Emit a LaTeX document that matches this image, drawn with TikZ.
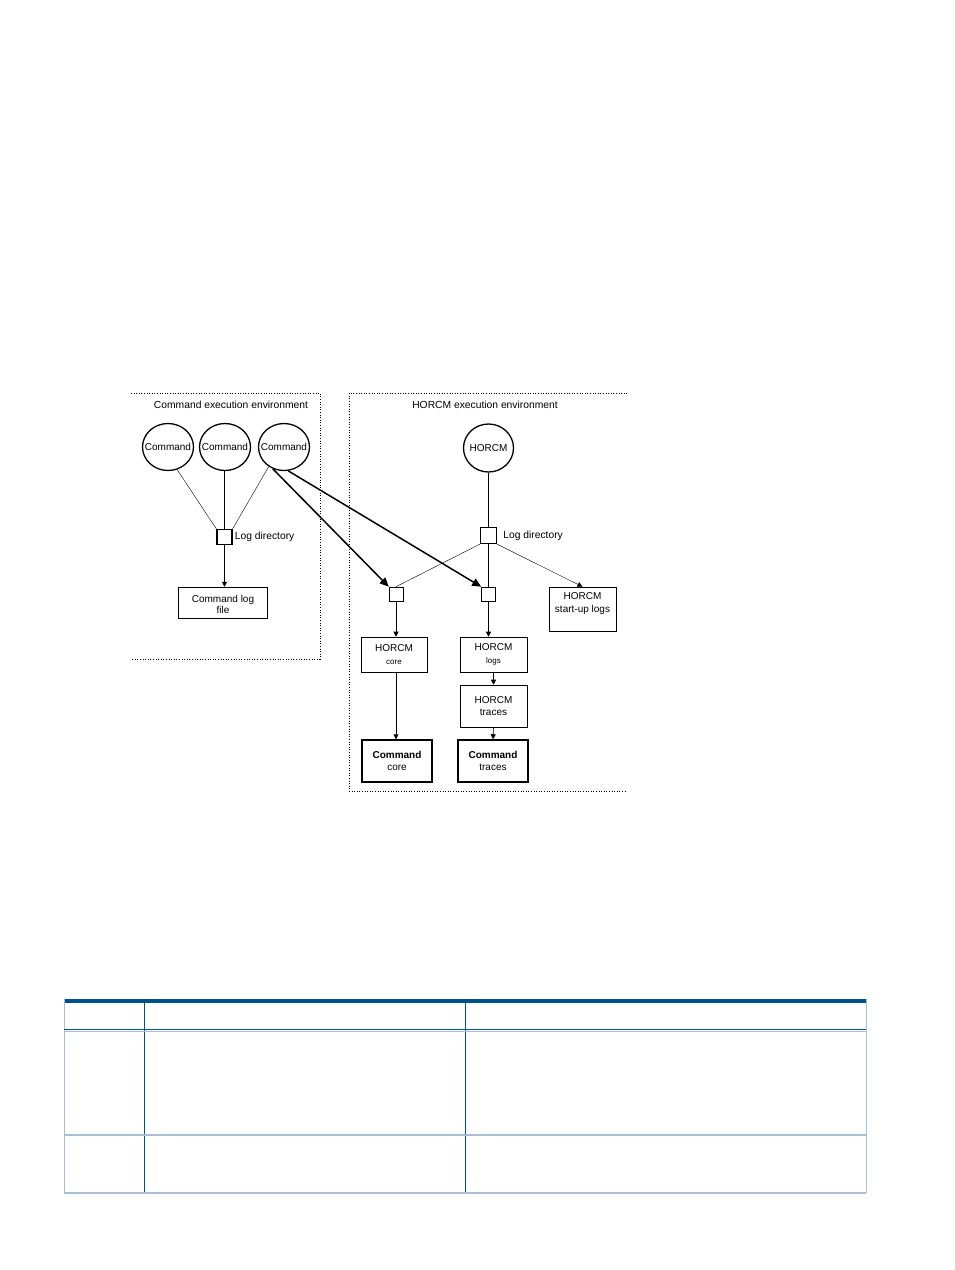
\documentclass[tikz,border=0pt]{standalone}
\usepackage{fontspec}
\setmainfont{Liberation Sans}
\usetikzlibrary{arrows.meta,positioning,shapes.geometric}

\definecolor{tabdark}{RGB}{0,80,140}
\definecolor{tablight}{RGB}{166,191,214}

\tikzset{
 txt/.style={font=\fontsize{10.3}{12}\selectfont,inner sep=1pt},
 cmd/.style={ellipse,draw,line width=1.3pt,minimum width=51pt,minimum height=47pt,inner sep=0pt,font=\fontsize{10}{11}\selectfont},
 logdir/.style={draw,line width=1.3pt,minimum size=15pt,inner sep=0pt},
 tap/.style={draw,line width=0.6pt,minimum size=14pt,inner sep=0pt},
 filebox/.style={draw,line width=0.6pt,align=center,inner sep=0pt,font=\fontsize{10}{12.5}\selectfont},
 outbox/.style={filebox,line width=1.5pt},
 link/.style={line width=0.4pt},
 feed/.style={line width=0.6pt,-{Triangle[length=5pt,width=5pt]}},
 hard/.style={line width=1.5pt,-{Triangle[length=9pt,width=8pt]}},
 env/.style={dotted,line width=0.6pt},
}

\begin{document}
\begin{tikzpicture}[x=1pt,y=-1pt,>=Stealth]
\useasboundingbox (0,0) rectangle (954,1270);

% command side
\draw[env] (131,393)--(320,393)--(320,659)--(131,659);
\node[txt] (envA) at (231,405) {Command execution environment};
\foreach \n/\x in {c1/168,c2/225,c3/284}
 \node[cmd] (\n) at (\x,447) {\makebox[0pt]{Command}};
\node[logdir] (logA) at (224.5,537) {};
\node[txt,right=1pt of logA] (logAlab) {Log directory};
\node[outbox,minimum width=89pt,minimum height=31pt,font=\fontsize{10}{10.5}\selectfont] (cmdlog) at (223,603) {\rule{0pt}{10pt}Command log\\file};
\draw[link] (c1.-68)--(logA.north west);
\draw[link] (logA.north |- c2.south)--(logA.north);
\draw[link] (c3.232)--(logA.north east);
\draw[feed] (logA.south)--(cmdlog.north -| logA.south);

% horcm side
\draw[env] (627,393)--(349,393)--(349,791)--(627,791);
\node[txt] (envB) at (485,405) {HORCM execution environment};
\node[cmd,minimum width=50pt,minimum height=48pt] (horcm) at (488.5,448) {\makebox[0pt]{HORCM}};
\node[logdir,minimum size=16pt] (logB) at (488.5,535.5) {};
\node[txt,right=5pt of logB] (logBlab) {Log directory};
\node[tap] (sq1) at (396,594) {};
\node[tap] (sq2) at (488.5,594) {};
\node[filebox,minimum width=67pt,minimum height=44pt] (startup) at (582.5,609) {};
\node[filebox,draw=none,below=6pt of startup.north] (startuplab) {HORCM\\start-up logs};
\node[filebox,minimum width=66pt,minimum height=35pt] (core) at (394,654.5) {HORCM\\{\fontsize{8}{9}\selectfont core}};
\node[filebox,minimum width=67pt,minimum height=35pt] (logs) at (493.5,654.5) {HORCM\\{\fontsize{8}{9}\selectfont logs}};
\node[filebox,minimum width=67pt,minimum height=42pt] (traces) at (493.5,706) {HORCM\\traces};
\node[outbox,minimum width=70pt,minimum height=42pt] (cmdcore) at (397,761) {\textbf{Command}\\core};
\node[outbox,minimum width=70pt,minimum height=42pt] (cmdtraces) at (493,761) {\textbf{Command}\\traces};

\draw[link,line width=0.6pt] (horcm.south)--(logB.north);
\draw[link] (logB.south west)--(sq1.north);
\draw[link,line width=0.6pt] (logB.south)--(sq2.north);
\draw[feed,line width=0.4pt] (logB.south east)--(startup.north);
\draw[feed] (sq1.south)--(sq1.south |- core.north);
\draw[feed] (sq2.south)--(sq2.south |- logs.north);
\draw[feed] (logs.south)--(traces.north);
\draw[feed] (traces.south)--(cmdtraces.north);
\draw[feed] (core.south -| sq1.south)--(sq1.south |- cmdcore.north);

% crossing links
\draw[hard] (c3.243)--(sq1.north west);
\draw[hard] (c3.280)--(sq2.north west);

% table
\fill[tabdark] (64,999) rectangle (866,1002.5);
\draw[tablight,line width=1pt] (64,999)--(64,1193) (866,999)--(866,1193);
\draw[tabdark,line width=0.8pt] (144,1002)--(144,1193) (465,1002)--(465,1193);
\draw[tabdark,line width=1.5pt] (64,1029.5)--(866,1029.5);
\draw[tablight,line width=0.8pt] (64,1031.5)--(866,1031.5);
\draw[tablight,line width=2pt] (64,1135)--(866,1135);
\draw[tablight,line width=1.6pt] (64,1193)--(866,1193);
\end{tikzpicture}
\end{document}
